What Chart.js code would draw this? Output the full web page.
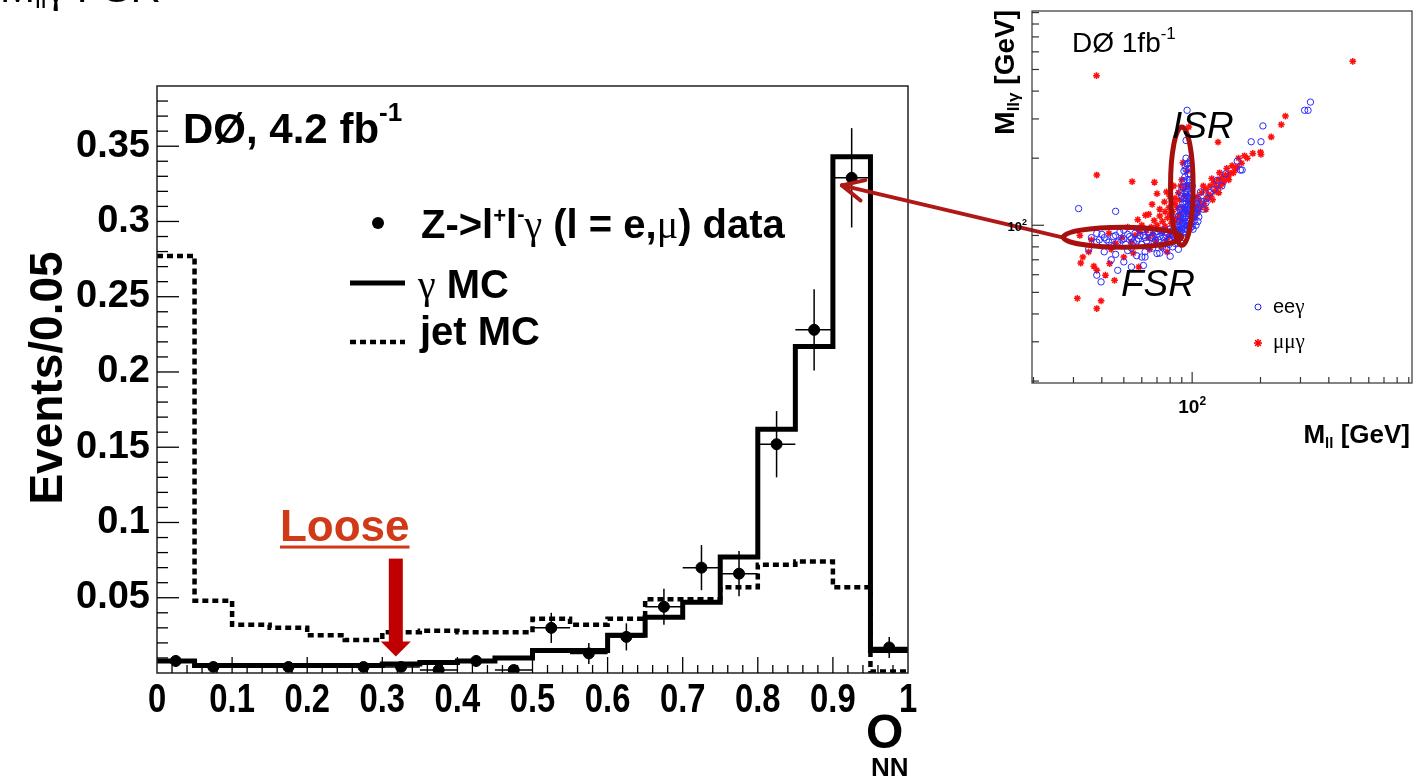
<!DOCTYPE html>
<html>
<head>
<meta charset="utf-8">
<script src="https://cdn.jsdelivr.net/npm/chart.js@4.4.1/dist/chart.umd.min.js"></script>
<style>
  html, body { margin: 0; padding: 0; background: #fff; }
  #wrap { position: relative; width: 1426px; height: 782px; overflow: hidden; background: #fff; }
  #main { position: absolute; left: 0; top: 0; }
  #inset { position: absolute; left: 960px; top: 0; }
</style>
</head>
<body>
<div id="wrap">
  <canvas id="main" width="1426" height="782"></canvas>
  <canvas id="inset" width="466" height="460"></canvas>
</div>
<script>
// --- main histogram: O_NN in bins of 0.05 ---
const binLow = [0, 0.05, 0.1, 0.15, 0.2, 0.25, 0.3, 0.35, 0.4, 0.45, 0.5, 0.55, 0.6, 0.65, 0.7, 0.75, 0.8, 0.85, 0.9, 0.95];
const binEnd = 1;
const gammaMC = [0.008, 0.005, 0.005, 0.005, 0.005, 0.005, 0.006, 0.007, 0.008, 0.010, 0.015, 0.015, 0.025, 0.037, 0.047, 0.077, 0.162, 0.217, 0.343, 0.015];
const jetMC = [0.277, 0.048, 0.032, 0.030, 0.025, 0.022, 0.027, 0.028, 0.027, 0.027, 0.036, 0.032, 0.036, 0.049, 0.049, 0.057, 0.072, 0.074, 0.057, 0.001];

// data points (bin centres), values and errors
const dataX = [0.025, 0.075, 0.175, 0.275, 0.325, 0.375, 0.425, 0.475, 0.525, 0.575, 0.625, 0.675, 0.725, 0.775, 0.825, 0.875, 0.925, 0.975];
const dataY = [0.008, 0.004, 0.004, 0.004, 0.004, 0.002, 0.008, 0.002, 0.030, 0.013, 0.024, 0.044, 0.070, 0.066, 0.152, 0.228, 0.329, 0.017];
const dataErr = [0.004, 0.003, 0.003, 0.003, 0.003, 0.002, 0.004, 0.002, 0.010, 0.007, 0.009, 0.012, 0.015, 0.015, 0.022, 0.027, 0.033, 0.007];
const binHalf = 0.025;

const xTickLabels = ['0', '0.1', '0.2', '0.3', '0.4', '0.5', '0.6', '0.7', '0.8', '0.9', '1'];
const yTickLabels = ['0.05', '0.1', '0.15', '0.2', '0.25', '0.3', '0.35'];

// --- inset scatter: M_ll vs M_llγ [GeV] ---
const eeMll = [36, 38, 40, 42, 44, 45, 47, 48, 50, 51, 53, 55, 56, 58, 60, 61, 63, 65, 66, 68, 70, 71, 73, 75, 76, 78, 80, 81, 83, 85, 86, 88, 89, 90, 74, 79, 84, 64, 54,
  38, 41, 43, 46, 49, 52, 54, 57, 59, 62, 64, 67, 69, 72, 74, 77, 79, 82, 84, 87, 89, 91, 92, 86, 80, 76, 70, 60, 50,
  41, 46, 52, 57, 62, 67, 72, 77, 82, 60, 70, 80, 38, 39.7, 47, 50, 54, 61, 62, 35, 44, 87,
  31.6, 46, 39,
  87, 88, 89, 90, 90, 91, 91, 92, 92, 92, 93, 93, 93, 94, 94, 94, 95, 95, 95, 95, 96, 96, 96, 96, 97, 97, 97, 98, 98, 93, 94, 92, 96, 95, 94,
  88, 89, 90, 91, 92, 93, 94, 95, 96, 97, 98, 99, 100, 91, 92, 93, 94, 95, 96, 97, 98, 99, 100, 101, 89, 90, 91, 92, 93, 94, 95, 97, 98, 99, 100,
  86, 87, 88, 89, 96, 97, 98, 99, 101, 102, 103, 104, 105, 106, 107,
  100, 102, 105, 107, 99, 103, 108.8, 110, 116, 112, 104, 101, 106,
  128.8, 158, 166, 182, 201, 205, 313, 324, 332, 163, 140, 135, 120, 115, 125];
const eeMllg = [88, 84, 91, 86, 81, 89, 84, 93, 87, 82, 89, 84, 92, 87, 82, 90, 85, 93, 88, 84, 91, 86, 93, 88, 84, 92, 87, 94, 89, 92, 86, 93, 89, 95, 80, 82, 83, 80, 79,
  92, 88, 84, 90, 86, 91, 87, 85, 90, 88, 93, 90, 86, 89, 95, 90, 86, 91, 88, 90, 94, 92, 88, 96, 96, 93, 94, 95, 95,
  76, 74, 77, 73, 76, 79, 75, 78, 80, 72, 74.7, 72.6, 59.7, 55.7, 62.8, 68.5, 65, 66, 72, 78, 70, 78,
  118.8, 115.5, 86,
  98, 104, 110, 101, 118, 107, 125, 99, 113, 132, 104, 120, 140, 110, 128, 150, 100, 116, 135, 160, 106, 122, 145, 170, 112, 130, 155, 118, 138, 185, 200, 175, 190, 328, 240,
  95, 99, 97, 103, 96, 108, 102, 96, 99, 104, 97, 102, 99, 112, 118, 125, 133, 141, 150, 160, 170, 115, 122, 130, 120, 135, 148, 158, 165, 178, 188, 180, 195, 140, 150,
  100, 110, 118, 140, 113, 118, 124, 133, 110, 104, 112, 118, 125, 131, 120,
  108, 115, 113.6, 109, 125, 122, 141, 128, 131.7, 118, 100, 96, 104,
  159, 194, 177, 237, 237, 279, 328, 328, 357, 177, 170, 150, 140, 126, 145];

const mmMll = [37.9, 510, 38, 54.4, 68.2, 130, 257.6, 247, 223, 200, 201, 96.6, 91,
  105, 110, 115, 120, 125, 130, 135, 140, 147, 118, 128, 138, 112, 122, 132, 142, 150, 160, 170, 108, 104, 102, 145, 155,
  103, 106, 109, 113, 116, 121, 126, 133, 137, 144, 152, 158, 165, 175, 185, 115, 123, 131,
  77.1, 70, 66.6, 62.3, 64.4, 57.6, 75.5, 79.7, 72, 68, 80, 84, 60, 52, 83, 86,
  70, 74, 78, 82, 86, 76, 72, 66, 81, 85, 88, 84, 87, 89, 79, 63, 58, 71, 76, 83,
  32, 36, 43, 49, 54, 59, 64, 69, 74, 79, 84, 46, 56, 67, 77, 87,
  32.3, 36.9, 38, 41.5, 43.3, 45.5, 31.2, 39.7, 38, 77.6, 58.2, 33, 35, 44, 55, 65, 73, 50,
  89, 91, 93, 95, 90, 94, 96, 92, 97, 88, 98, 95];
const mmMllg = [469, 544, 168, 157, 156, 236, 309, 283, 249, 213, 208, 276, 191,
  134, 140, 145, 150, 155, 160, 163, 168, 171, 138, 148, 158, 150, 162, 172, 180, 185, 200, 205, 128, 122, 118, 160, 178,
  108, 115, 120, 125, 132, 135, 142, 150, 155, 165, 172, 183, 190, 200, 210, 118, 130, 140,
  141, 138.6, 124.2, 110.9, 112, 106, 127.3, 134.9, 118, 105, 112, 125, 100, 98, 150, 108,
  100, 104, 108, 115, 120, 115, 110, 98, 102, 105, 112, 132, 140, 150, 120, 95, 96, 96, 99, 98,
  90, 86, 92, 88, 84, 93, 88, 85, 94, 89, 94, 83, 90, 91, 86, 95,
  67.7, 65.5, 62.8, 59.7, 67.3, 56.6, 47, 45.8, 42.3, 75.9, 65, 72, 76, 78, 75, 78, 80, 72,
  105, 120, 135, 150, 160, 115, 128, 145, 100, 130, 112, 175];

const SANS = "'Liberation Sans', Arial, Helvetica, sans-serif";
const SERIF = "'Liberation Serif', 'DejaVu Serif', serif";
const B = s => `bold ${s}px ${SANS}`;
const N = s => `${s}px ${SANS}`;
const SR = s => `${s}px ${SERIF}`;
const IT = s => `italic ${s}px ${SANS}`;

// draw text made of pieces [text, font, dy]
function rich(ctx, x, y, parts, align) {
    ctx.textAlign = 'left';
    ctx.textBaseline = 'alphabetic';
    let w = 0;
    parts.forEach(p => { ctx.font = p[1]; w += ctx.measureText(p[0]).width; });
    let cx = align === 'right' ? x - w : align === 'center' ? x - w / 2 : x;
    parts.forEach(p => {
        ctx.font = p[1];
        ctx.fillText(p[0], cx, y + (p[2] || 0));
        cx += ctx.measureText(p[0]).width;
    });
}

function seg(ctx, x0, y0, x1, y1) {
    ctx.beginPath();
    ctx.moveTo(x0, y0);
    ctx.lineTo(x1, y1);
    ctx.stroke();
}

function steps(vals) {
    const pts = binLow.map((x, i) => ({ x: x, y: vals[i] }));
    pts.push({ x: binEnd, y: vals[vals.length - 1] });
    return pts;
}

// ---------------- inset chart ----------------
const insetDecor = {
    id: 'insetDecor',
    afterDraw(chart) {
        const ctx = chart.ctx, a = chart.chartArea;
        const xs = chart.scales.x, ys = chart.scales.y;
        ctx.save();
        ctx.strokeStyle = '#333';
        ctx.lineWidth = 1.2;
        ctx.strokeRect(a.left, a.top, a.right - a.left, a.bottom - a.top);

        // log ticks, inward
        [10, 100].forEach(d => {
            for (let k = 1; k <= 9; k++) {
                const v = d * k;
                const major = (v === 100);
                if (v >= xs.min && v <= xs.max) {
                    const px = xs.getPixelForValue(v);
                    seg(ctx, px, a.bottom, px, a.bottom - (major ? 11 : 6));
                }
                if (v >= ys.min && v <= ys.max) {
                    const py = ys.getPixelForValue(v);
                    seg(ctx, a.left, py, a.left + (major ? 12 : 7), py);
                }
            }
        });

        ctx.fillStyle = '#000';
        rich(ctx, xs.getPixelForValue(100), 413, [['10', B(19)], ['2', B(12), -8]], 'center');
        rich(ctx, a.left - 5, ys.getPixelForValue(100) + 6, [['10', B(13)], ['2', B(9), -6]], 'right');

        // axis titles
        rich(ctx, 450, 443, [['M', B(26)], ['ll', B(15), 5], [' [GeV]', B(26)]], 'right');
        ctx.save();
        ctx.translate(54, 0);
        ctx.rotate(-Math.PI / 2);
        rich(ctx, -10, 0, [['M', B(28)], ['llγ', B(17), 5], [' [GeV]', B(28)]], 'right');
        ctx.restore();

        // ISR / FSR ellipses
        ctx.strokeStyle = '#a80f0f';
        ctx.lineWidth = 5;
        const ell = (x0v, x1v, y0v, y1v) => {
            const x0 = xs.getPixelForValue(x0v), x1 = xs.getPixelForValue(x1v);
            const y0 = ys.getPixelForValue(y0v), y1 = ys.getPixelForValue(y1v);
            ctx.beginPath();
            ctx.ellipse((x0 + x1) / 2, (y0 + y1) / 2, Math.abs(x1 - x0) / 2, Math.abs(y1 - y0) / 2, 0, 0, 2 * Math.PI);
            ctx.stroke();
        };
        ell(27.1, 89.7, 79.7, 98);
        ell(80.3, 101, 81.3, 276);

        ctx.fillStyle = '#000';
        rich(ctx, 112, 52, [['DØ 1fb', N(28)], ['-1', N(17), -13]]);
        rich(ctx, 212, 138, [['ISR', IT(37)]]);
        rich(ctx, 161, 296, [['FSR', IT(37)]]);

        // legend
        ctx.strokeStyle = '#2222ff';
        ctx.lineWidth = 1;
        ctx.beginPath();
        ctx.arc(298, 307, 3, 0, 2 * Math.PI);
        ctx.stroke();
        ctx.strokeStyle = '#ff0000';
        ctx.lineWidth = 1.6;
        for (let k = 0; k < 4; k++) {
            const ang = k * Math.PI / 4;
            seg(ctx, 298 - 4 * Math.cos(ang), 343 - 4 * Math.sin(ang), 298 + 4 * Math.cos(ang), 343 + 4 * Math.sin(ang));
        }
        ctx.fillStyle = '#000';
        rich(ctx, 313, 313, [['ee', N(20)], ['γ', SR(21)]]);
        rich(ctx, 313, 348, [['μμγ', SR(21)]]);
        ctx.restore();
    }
};

window.insetChart = new Chart(document.getElementById('inset'), {
    type: 'scatter',
    data: {
        datasets: [
            {
                label: 'eeγ',
                data: eeMll.map((x, i) => ({ x: x, y: eeMllg[i] })),
                pointStyle: 'circle',
                pointRadius: 3.2,
                borderColor: '#2a2aff',
                backgroundColor: 'rgba(0,0,0,0)',
                borderWidth: 1
            },
            {
                label: 'μμγ',
                data: mmMll.map((x, i) => ({ x: x, y: mmMllg[i] })),
                pointStyle: 'star',
                pointRadius: 3.4,
                borderColor: '#ff1010',
                backgroundColor: '#ff1010',
                borderWidth: 1.5
            }
        ]
    },
    options: {
        responsive: false,
        animation: false,
        layout: { padding: { left: 72, right: 14, top: 11, bottom: 77 } },
        plugins: { legend: { display: false }, tooltip: { enabled: false } },
        scales: {
            x: { type: 'logarithmic', min: 19.7, max: 930, display: false },
            y: { type: 'logarithmic', min: 19.6, max: 915, display: false }
        }
    },
    plugins: [insetDecor]
});

// ---------------- main chart ----------------
const mainDecor = {
    id: 'mainDecor',
    afterDatasetsDraw(chart) {
        const ctx = chart.ctx, a = chart.chartArea;
        const xs = chart.scales.x, ys = chart.scales.y;
        ctx.save();
        ctx.beginPath();
        ctx.rect(a.left, a.top, a.right - a.left, a.bottom - a.top);
        ctx.clip();
        ctx.strokeStyle = '#000';
        ctx.lineWidth = 1.5;
        dataX.forEach((x, i) => {
            const px = xs.getPixelForValue(x), py = ys.getPixelForValue(dataY[i]);
            seg(ctx, xs.getPixelForValue(x - binHalf), py, xs.getPixelForValue(x + binHalf), py);
            seg(ctx, px, ys.getPixelForValue(dataY[i] - dataErr[i]), px, ys.getPixelForValue(dataY[i] + dataErr[i]));
        });
        ctx.restore();
    },
    afterDraw(chart) {
        const ctx = chart.ctx, a = chart.chartArea;
        const xs = chart.scales.x, ys = chart.scales.y;
        ctx.save();
        ctx.strokeStyle = '#222';
        ctx.lineWidth = 1.5;
        ctx.strokeRect(a.left, a.top, a.right - a.left, a.bottom - a.top);

        // inward ticks
        ctx.strokeStyle = '#000';
        ctx.lineWidth = 1.3;
        for (let k = 1; k < 50; k++) {
            const px = xs.getPixelForValue(k * 0.02);
            seg(ctx, px, a.bottom, px, a.bottom - (k % 5 === 0 ? 16 : 8));
        }
        for (let k = 1; k * 0.01 < ys.max; k++) {
            const py = ys.getPixelForValue(k * 0.01);
            seg(ctx, a.left, py, a.left + (k % 5 === 0 ? 22 : 11), py);
        }

        // x tick labels, horizontally condensed like the original font
        ctx.fillStyle = '#000';
        ctx.font = B(41);
        ctx.textAlign = 'center';
        ctx.textBaseline = 'alphabetic';
        xs.ticks.forEach((t, i) => {
            ctx.save();
            ctx.translate(xs.getPixelForValue(t.value), a.bottom + 39);
            ctx.scale(0.8, 1);
            ctx.fillText(xTickLabels[i], 0, 0);
            ctx.restore();
        });

        // experiment label
        rich(ctx, 183, 143, [['DØ, 4.2 fb', B(42)], ['-1', B(26), -22]]);

        // legend
        ctx.beginPath();
        ctx.arc(378, 223, 6, 0, 2 * Math.PI);
        ctx.fill();
        rich(ctx, 421, 238, [['Z->l', B(40)], ['+', B(22), -15], ['l', B(40)], ['-', B(22), -17], ['γ', SR(40)], [' (l = e,', B(40)], ['μ', SR(40)], [') data', B(40)]]);
        ctx.lineWidth = 5;
        seg(ctx, 350, 283, 405, 283);
        rich(ctx, 418, 298, [['γ', SR(40)], [' MC', B(40)]]);
        ctx.lineWidth = 4.5;
        ctx.setLineDash([6, 4]);
        seg(ctx, 350, 342, 405, 342);
        ctx.setLineDash([]);
        rich(ctx, 420, 345, [['jet MC', B(40)]]);

        // "Loose" cut marker
        ctx.fillStyle = '#d03a17';
        ctx.font = B(44);
        ctx.textAlign = 'center';
        const lx = xs.getPixelForValue(0.25), ly = ys.getPixelForValue(0.088);
        ctx.fillText('Loose', lx, ly);
        const lw = ctx.measureText('Loose').width;
        ctx.fillRect(lx - lw / 2, ly + 5, lw, 3);
        ctx.fillStyle = '#c00000';
        const ax = xs.getPixelForValue(0.318);
        const aTop = ys.getPixelForValue(0.076), aHead = ys.getPixelForValue(0.021), aTip = ys.getPixelForValue(0.011);
        ctx.fillRect(ax - 7, aTop, 14, aHead - aTop + 1);
        ctx.beginPath();
        ctx.moveTo(ax - 15, aHead);
        ctx.lineTo(ax + 15, aHead);
        ctx.lineTo(ax, aTip);
        ctx.closePath();
        ctx.fill();

        // axis titles
        ctx.fillStyle = '#000';
        ctx.save();
        ctx.translate(62, 378);
        ctx.rotate(-Math.PI / 2);
        rich(ctx, 0, 0, [['Events/0.05', B(46)]], 'center');
        ctx.restore();
        rich(ctx, 866, 748, [['O', B(48)]]);
        rich(ctx, 871, 776, [['NN', B(26)]]);

        // clipped slide title at the top edge
        rich(ctx, 0, 2, [['M', N(42)], ['ll', N(26), 6], ['γ', SR(42)], [' FSR', N(42)]]);

        // arrow from FSR ellipse to the peak data point
        const ic = window.insetChart;
        if (ic) {
            const tx = ic.scales.x.getPixelForValue(27.1) + 960;
            const ty = ic.scales.y.getPixelForValue(88);
            const hx = xs.getPixelForValue(0.912), hy = ys.getPixelForValue(0.324);
            ctx.strokeStyle = '#b01818';
            ctx.lineWidth = 4;
            ctx.lineCap = 'round';
            seg(ctx, tx, ty, hx, hy);
            const ang = Math.atan2(ty - hy, tx - hx);
            [0.45, -0.45].forEach(d => {
                seg(ctx, hx, hy, hx + 24 * Math.cos(ang + d), hy + 24 * Math.sin(ang + d));
            });
        }
        ctx.restore();
    }
};

new Chart(document.getElementById('main'), {
    type: 'line',
    data: {
        datasets: [
            {
                label: 'data',
                data: dataX.map((x, i) => ({ x: x, y: dataY[i] })),
                showLine: false,
                pointStyle: 'circle',
                pointRadius: 5.5,
                backgroundColor: '#000',
                borderColor: '#000'
            },
            {
                label: 'γ MC',
                data: steps(gammaMC),
                stepped: 'before',
                borderColor: '#000',
                borderWidth: 5,
                pointRadius: 0,
                fill: false
            },
            {
                label: 'jet MC',
                data: steps(jetMC),
                stepped: 'before',
                borderColor: '#000',
                borderWidth: 4.5,
                borderDash: [6, 4],
                pointRadius: 0,
                fill: false
            }
        ]
    },
    options: {
        responsive: false,
        animation: false,
        layout: { padding: { left: 0, right: 518, top: 86, bottom: 0 } },
        plugins: { legend: { display: false }, tooltip: { enabled: false } },
        scales: {
            x: {
                type: 'linear', min: 0, max: 1,
                grid: { display: false, drawTicks: false },
                border: { display: false },
                afterBuildTicks: s => { s.ticks = xTickLabels.map(t => ({ value: parseFloat(t) })); },
                afterFit: s => { s.height = 109; },
                ticks: { display: false }
            },
            y: {
                type: 'linear', min: 0, max: 0.39,
                grid: { display: false, drawTicks: false },
                border: { display: false },
                afterBuildTicks: s => { s.ticks = yTickLabels.map(t => ({ value: parseFloat(t) })); },
                afterFit: s => { s.width = 157; },
                ticks: {
                    callback: (v, i) => yTickLabels[i],
                    font: { family: SANS, weight: 'bold', size: 38 },
                    color: '#000', padding: 7
                }
            }
        }
    },
    plugins: [mainDecor]
});
</script>
</body>
</html>
